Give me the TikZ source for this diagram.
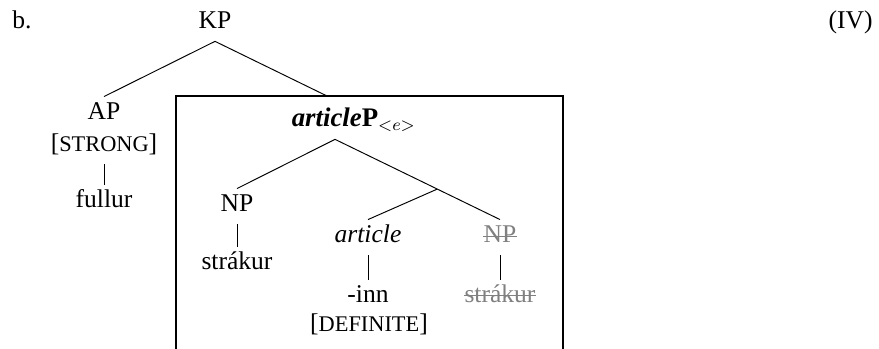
\documentclass[tikz,border=0pt]{standalone}
\usepackage{fontspec}
\setmainfont{Liberation Serif}
\usetikzlibrary{calc}

\tikzset{
  lbl/.style={anchor=base, inner xsep=0pt, inner ysep=2.8pt, text height=8pt, text depth=2.8pt, font=\fontsize{12}{14}\selectfont},
  gone/.style={lbl, text=gray},
  branch/.style={line width=.45pt},
  strike/.style={gray, line width=.6pt}
}
\newcommand{\featsc}[1]{[{\fontsize{10.5}{12}\selectfont #1}]}

\begin{document}
\begin{tikzpicture}[x=0.4695pt,y=-0.4695pt]
\useasboundingbox (0,0) rectangle (879,349);
% the frame, open at the bottom
\draw[line width=1.2pt] (176,365) -- (176,96) -- (563,96) -- (563,365);
\coordinate (frametop) at (327,96);
\node[lbl,anchor=base west] (ex) at (12,29) {b.};
\node[lbl,anchor=base east] (num) at (873,29) {(IV)};
\node[lbl] (KP) at (215,29) {KP};
%     left branch
\node[lbl] (AP) at (104,120) {AP};
\node[lbl] (APf) at (104,152) {\featsc{STRONG}};
\node[lbl] (full) at (104,208) {fullur};
%     the boxed part
\node[lbl] (aP) at (335,127) {{\fontsize{12.6}{14}\selectfont\textbf{\textit{article}P}}\rlap{$_{<e>}$}};
\node[lbl] (NP) at (237,212) {NP};
\node[lbl] (str) at (237,270) {strákur};
\node[lbl] (art) at (368,243) {\textit{article}};
\node[lbl] (inn) at (368,303) {-inn};
\node[lbl] (artf) at (369,332) {\featsc{DEFINITE}};
\node[gone] (NPg) at (500,243) {NP};
\node[gone] (strg) at (500,303) {strákur};
% struck out copies
\draw[strike] ([yshift=3pt]NPg.base west) -- ([yshift=3pt]NPg.base east);
\draw[strike] ([yshift=3.6pt]strg.base west) -- ([yshift=3.6pt]strg.base east);
% the branches
\draw[branch] (KP.south) -- (AP.north);
\draw[branch] (KP.south) -- (frametop);
\draw[branch] (APf.south) -- (full.north);
\draw[branch] (aP.south) -- (NP.north);
\draw[branch] (aP.south) -- (NPg.north);
\coordinate (split) at ($(aP.south)!.62!(NPg.north)$);
\draw[branch] (split) -- (art.north);
\draw[branch] (NP.south) -- (str.north);
\draw[branch] (art.south) -- (inn.north);
\draw[branch] (NPg.south) -- (strg.north);
\end{tikzpicture}
\end{document}
